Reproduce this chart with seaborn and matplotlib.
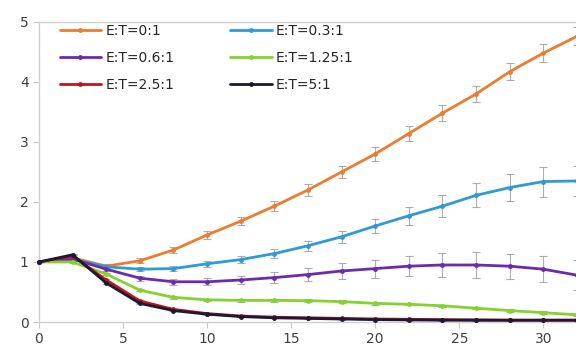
import matplotlib
matplotlib.use("Agg")
import matplotlib.pyplot as plt
import pandas as pd
import seaborn as sns

# sampling days
days = [0, 2, 4, 6, 8, 10, 12, 14, 16, 18, 20, 22, 24, 26, 28, 30, 32]

labels = ["E:T=0:1", "E:T=0.3:1", "E:T=0.6:1", "E:T=1.25:1", "E:T=2.5:1", "E:T=5:1"]
colors = ["#EE7B30", "#2E9AD8", "#6A2BB0", "#86D22C", "#C0141C", "#1A1A33"]

et_0 = [1.0, 1.07, 0.93, 1.02, 1.2, 1.45, 1.68, 1.93, 2.2, 2.5, 2.8, 3.14, 3.48, 3.8, 4.17, 4.48, 4.76]
et_03 = [1.0, 1.05, 0.92, 0.88, 0.89, 0.97, 1.04, 1.14, 1.27, 1.42, 1.6, 1.77, 1.93, 2.11, 2.24, 2.34, 2.35]
et_06 = [1.0, 1.05, 0.88, 0.73, 0.67, 0.67, 0.70, 0.74, 0.79, 0.85, 0.89, 0.93, 0.95, 0.95, 0.93, 0.88, 0.78]
et_125 = [1.0, 1.0, 0.8, 0.53, 0.41, 0.37, 0.36, 0.36, 0.355, 0.34, 0.31, 0.295, 0.27, 0.23, 0.19, 0.155, 0.12]
et_25 = [1.0, 1.1, 0.7, 0.35, 0.21, 0.14, 0.1, 0.08, 0.07, 0.06, 0.05, 0.045, 0.04, 0.035, 0.03, 0.03, 0.03]
et_5 = [1.0, 1.12, 0.65, 0.31, 0.19, 0.13, 0.09, 0.07, 0.06, 0.05, 0.04, 0.035, 0.03, 0.03, 0.03, 0.03, 0.03]

err_0 = [0, 0.02, 0.03, 0.04, 0.05, 0.06, 0.07, 0.08, 0.1, 0.1, 0.12, 0.12, 0.13, 0.13, 0.14, 0.15, 0.15]
err_03 = [0, 0.02, 0.03, 0.03, 0.04, 0.05, 0.06, 0.07, 0.08, 0.1, 0.12, 0.15, 0.18, 0.2, 0.22, 0.25, 0.25]
err_06 = [0, 0.02, 0.03, 0.04, 0.05, 0.06, 0.07, 0.09, 0.11, 0.13, 0.15, 0.17, 0.2, 0.21, 0.21, 0.22, 0.25]
err_125 = [0, 0.01, 0.02, 0.02, 0.02, 0.02, 0.02, 0.02, 0.02, 0.02, 0.02, 0.02, 0.02, 0.02, 0.02, 0.02, 0.02]
err_25 = [0, 0.01, 0.01, 0.01, 0.01, 0.01, 0.01, 0.01, 0.01, 0.01, 0.01, 0.01, 0.01, 0.01, 0.01, 0.01, 0.01]
err_5 = [0, 0.01, 0.01, 0.01, 0.01, 0.01, 0.01, 0.01, 0.01, 0.01, 0.01, 0.01, 0.01, 0.01, 0.01, 0.01, 0.01]

series = [et_0, et_03, et_06, et_125, et_25, et_5]
errors = [err_0, err_03, err_06, err_125, err_25, err_5]

rows = []
for lab, vals, errs in zip(labels, series, errors):
    for d, v, e in zip(days, vals, errs):
        rows.append({"day": d, "value": v, "err": e, "ratio": lab})
df = pd.DataFrame(rows)

sns.set_style("white")
plt.rcParams["font.family"] = ["DejaVu Sans"]

fig = plt.figure(figsize=(5.76, 3.56), dpi=100)
ax = fig.add_axes([0.0677, 0.0955, 0.934, 0.843])

# error bars first, so lines sit on top
for lab in labels:
    sub = df[df["ratio"] == lab]
    ax.errorbar(sub["day"], sub["value"], yerr=sub["err"], fmt="none",
                ecolor="#9a9a9a", elinewidth=0.8, capsize=3, capthick=0.8,
                alpha=0.8, zorder=1)

sns.lineplot(data=df, x="day", y="value", hue="ratio", hue_order=labels,
             palette=colors, marker="o", markersize=3.5, markeredgewidth=0,
             linewidth=2, ax=ax, zorder=3, clip_on=False)

ax.set_xlim(0, 32)
ax.set_ylim(0, 5)
ax.set_xticks([0, 5, 10, 15, 20, 25, 30])
ax.set_yticks([0, 1, 2, 3, 4, 5])
ax.set_xlabel("")
ax.set_ylabel("")
ax.tick_params(axis="both", labelsize=10, colors="#404040", length=4,
               width=0.8, direction="out", bottom=True, left=True)
ax.tick_params(axis="both", color="#c8c8c8")

for side in ["left", "bottom", "top"]:
    ax.spines[side].set_color("#d0d0d0")
    ax.spines[side].set_linewidth(1)
ax.spines["right"].set_visible(False)

# legend filled row-wise like the original
handles, labs = ax.get_legend_handles_labels()
order = [0, 2, 4, 1, 3, 5]
ax.legend([handles[i] for i in order], [labs[i] for i in order], ncol=2,
          loc="upper left", bbox_to_anchor=(0.015, 1.035), frameon=False,
          fontsize=10, handlelength=3, columnspacing=4, labelspacing=0.95,
          handletextpad=0.3)

fig.savefig("out.png", dpi=100)
